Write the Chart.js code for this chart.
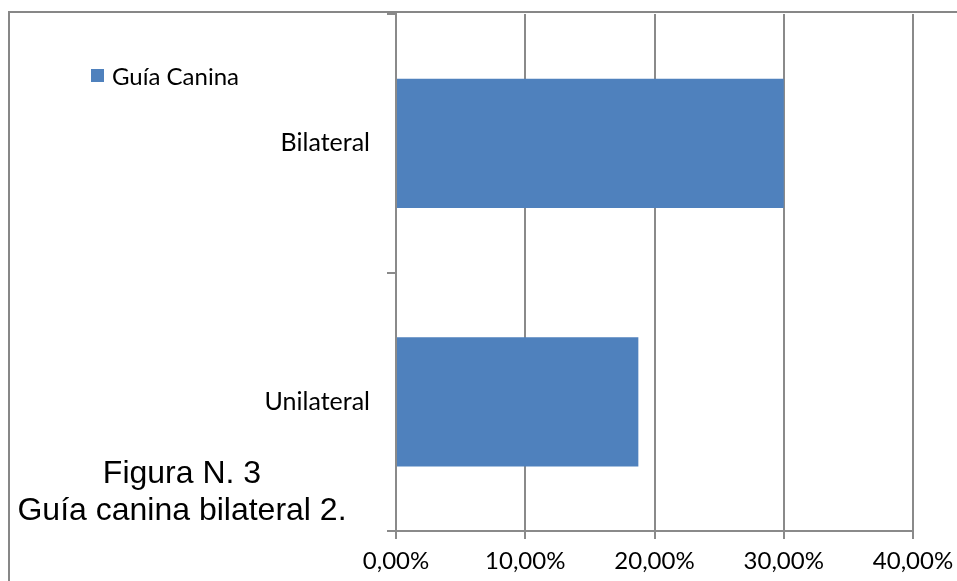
<!DOCTYPE html>
<html>
<head>
<meta charset="utf-8">
<script src="https://cdn.jsdelivr.net/npm/chart.js@4.4.0/dist/chart.umd.min.js"></script>
<style>
  html, body { margin: 0; padding: 0; background: #fff; }
  #wrap { position: relative; width: 957px; height: 581px; overflow: hidden; }
  #frame { position: absolute; left: 8px; top: 11px; width: 1000px; height: 700px;
           border-left: 2px solid #878787; border-top: 2px solid #878787; box-sizing: border-box; }
  #legend { position: absolute; left: 91px; top: 61px; font: 24px Lato, sans-serif; color: #000;
            display: flex; align-items: center; }
  #legend .sw { width: 13px; height: 13px; margin-right: 8px; }
  #caption { position: absolute; left: 0; width: 364px; top: 454px; text-align: center;
             font: 32px "Liberation Sans", Arial, sans-serif; line-height: 37px; color: #000; }
  canvas { position: absolute; left: 0; top: 0; }
</style>
</head>
<body>
<div id="wrap">
  <div id="frame"></div>
  <canvas id="chart" width="957" height="581"></canvas>
  <div id="legend"></div>
  <div id="caption">Figura N. 3<br>Guía canina bilateral 2.</div>
</div>
<script>
const categories = ['Bilateral', 'Unilateral'];
const seriesName = 'Guía Canina';
const seriesValues = [0.30, 0.1875];
const xTicks = [0, 0.1, 0.2, 0.3, 0.4];

const barColor = '#4f81bd';
const lineColor = '#8a8a8a';
const fontFamily = 'Lato, sans-serif';

const fmtPct = (v) => (v * 100).toFixed(2).replace('.', ',') + '%';

const ctx = document.getElementById('chart');
const chart = new Chart(ctx, {
  type: 'bar',
  data: {
    labels: categories,
    datasets: [{
      label: seriesName,
      data: seriesValues,
      backgroundColor: barColor,
      borderWidth: 0,
      categoryPercentage: 1,
      barPercentage: 0.5
    }]
  },
  options: {
    indexAxis: 'y',
    responsive: false,
    animation: false,
    layout: { padding: { top: 14, right: 44, left: 0, bottom: 0 } },
    plugins: {
      legend: { display: false },
      tooltip: { enabled: false }
    },
    scales: {
      x: {
        min: 0,
        max: 0.4,
        afterBuildTicks: (scale) => { scale.ticks = xTicks.map(v => ({ value: v })); },
        afterFit: (scale) => { scale.height = 50; scale.paddingLeft = 0; scale.paddingRight = 0; },
        ticks: {
          callback: (v) => fmtPct(v),
          color: '#000',
          padding: 8,
          maxRotation: 0,
          font: { family: fontFamily, size: 24 }
        },
        grid: { color: lineColor, lineWidth: 2, tickLength: 8 },
        border: { color: lineColor, width: 2 }
      },
      y: {
        afterFit: (scale) => { scale.width = 396; scale.paddingTop = 0; scale.paddingBottom = 0; },
        ticks: {
          color: '#000',
          padding: 17,
          font: { family: fontFamily, size: 25 }
        },
        grid: { offset: true, drawOnChartArea: false, color: lineColor, lineWidth: 2, tickLength: 9 },
        border: { color: lineColor, width: 2 }
      }
    }
  }
});

const legendEl = document.getElementById('legend');
chart.data.datasets.forEach((ds) => {
  const sw = document.createElement('span');
  sw.className = 'sw';
  sw.style.background = ds.backgroundColor;
  const txt = document.createElement('span');
  txt.textContent = ds.label;
  legendEl.appendChild(sw);
  legendEl.appendChild(txt);
});
</script>
</body>
</html>
